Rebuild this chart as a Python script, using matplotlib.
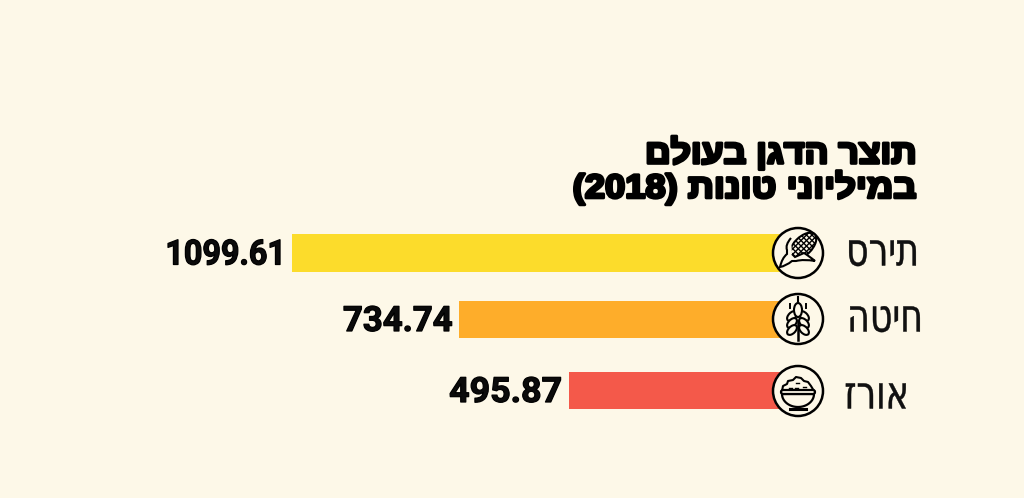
import matplotlib
matplotlib.use("Agg")
import matplotlib.pyplot as plt
import matplotlib.patches as patches
import matplotlib.patheffects as pe
from matplotlib.path import Path
from matplotlib.transforms import Affine2D
import numpy as np

# data
grains = ["תירס", "חיטה", "אורז"]
production = [1099.61, 734.74, 495.87]
title_line1 = "תוצר הדגן בעולם"
title_line2 = "במיליוני טונות"
title_year = "(2018)"

BG = "#FDF8E8"
bar_colors = ["#FCDC2B", "#FEAD2A", "#F4594A"]
row_top = [234, 301, 372]
row_bottom = [272, 338, 409]
icon_y = [253, 319, 391]
label_y = [253, 319, 396]
label_x = [919, 923, 909]
value_stretch = [0.93, 1.0, 1.03]
ZERO_PX = 795.5
PX_PER_UNIT = 0.4577


def heb(s):
    # matplotlib has no bidi, so hebrew goes in visual order
    return s[::-1]


class HStretch(pe.AbstractPathEffect):
    """squeeze or widen text around x0 (display px), none of the fonts here are condensed"""

    def __init__(self, sx, x0, lw=0.0):
        super().__init__()
        self.sx = sx
        self.x0 = x0
        self.lw = lw

    def draw_path(self, renderer, gc, tpath, affine, rgbFace=None):
        stretch = Affine2D().translate(-self.x0, 0).scale(self.sx, 1).translate(self.x0, 0)
        gc0 = renderer.new_gc()
        gc0.copy_properties(gc)
        gc0.set_linewidth(self.lw)
        gc0.set_foreground("black")
        renderer.draw_path(gc0, tpath, affine + stretch, rgbFace)
        gc0.restore()


def draw_corn(ax, cx, cy):
    cob = patches.Ellipse((cx + 5, cy - 7), 33, 18, angle=-45, fc=BG, ec="black", lw=1.5, zorder=5)
    ax.add_patch(cob)
    for t in np.arange(-24, 25, 5.5):
        a, = ax.plot([cx + 5 + t - 14, cx + 5 + t + 14], [cy - 7 - 14, cy - 7 + 14], c="black", lw=1.0, zorder=6)
        b, = ax.plot([cx + 5 + t - 14, cx + 5 + t + 14], [cy - 7 + 14, cy - 7 - 14], c="black", lw=1.0, zorder=6)
        a.set_clip_path(cob)
        b.set_clip_path(cob)
    verts = [(cx - 7, cy - 15), (cx - 13, cy - 8), (cx - 11, cy - 3), (cx - 11, cy + 1), (cx - 16, cy + 5),
             (cx - 18, cy + 14), (cx - 12, cy + 13), (cx - 6, cy + 8), (cx - 2, cy + 8), (cx + 6, cy + 6), (cx + 17, cy + 8),
             (cx + 11, cy + 3), (cx + 6, cy + 0), (cx - 3, cy + 4), (cx - 6, cy + 1)]
    codes = [Path.MOVETO, Path.CURVE3, Path.CURVE3, Path.LINETO, Path.CURVE3, Path.CURVE3, Path.CURVE3,
             Path.CURVE3, Path.LINETO, Path.CURVE3, Path.CURVE3, Path.CURVE3, Path.CURVE3, Path.LINETO, Path.LINETO]
    ax.add_patch(patches.PathPatch(Path(verts, codes), fc=BG, ec="black", lw=1.5, zorder=7))


def draw_wheat(ax, cx, cy):
    ax.plot([cx, cx], [cy - 22, cy - 18], c="black", lw=1.5, zorder=6)
    ax.plot([cx, cx], [cy + 2, cy + 21], c="black", lw=1.8, zorder=6)
    ax.add_patch(patches.Ellipse((cx, cy - 9), 8, 14, fc=BG, ec="black", lw=1.5, zorder=7))
    for dy in [-3, 4, 11]:
        for side in [-1, 1]:
            ax.add_patch(patches.Ellipse((cx + side * 6, cy + dy), 7, 12, angle=-side * 45,
                                         fc=BG, ec="black", lw=1.5, zorder=5))
    for side in [-1, 1]:
        ax.plot([cx + side * 8, cx + side * 8], [cy - 15, cy - 11], c="black", lw=1.4, zorder=6)


def draw_rice(ax, cx, cy):
    xs = [cx - 16, cx - 15, cx - 11, cx - 10, cx - 5, cx - 2, cx + 3, cx + 6, cx + 10, cx + 13, cx + 16]
    ys = [cy, cy - 5, cy - 7, cy - 10, cy - 11, cy - 14, cy - 13, cy - 10, cy - 9, cy - 5, cy]
    ax.plot(xs, ys, c="black", lw=1.5, zorder=6)
    ang = np.linspace(0, np.pi, 40)
    ax.add_patch(patches.Polygon(np.c_[cx + 16 * np.cos(ang), cy + 3 + 13 * np.sin(ang)], closed=True,
                                 fc=BG, ec="black", lw=1.6, zorder=5))
    ax.add_patch(patches.FancyBboxPatch((cx - 17, cy - 1), 34, 4, boxstyle="round,pad=0,rounding_size=2",
                                        fc=BG, ec="black", lw=1.6, zorder=6))
    ax.plot([cx - 8, cx + 8], [cy + 18, cy + 18], c="black", lw=2.2, zorder=6)
    for dx, dy in [(-9, -3), (-2, -8), (5, -4), (-3, -3)]:
        ax.plot([cx + dx, cx + dx + 3], [cy + dy, cy + dy], c="black", lw=1.0, zorder=6)


fig = plt.figure(figsize=(10.24, 4.98), dpi=100, facecolor=BG)

# bars grow to the left from the icon column
ax = fig.add_axes([0, 0, 1, 1])
ax.set_xlim(ZERO_PX / PX_PER_UNIT, (ZERO_PX - 1024) / PX_PER_UNIT)
ax.set_ylim(498, 0)
ax.axis("off")

centers = [(a + b) / 2 for a, b in zip(row_top, row_bottom)]
heights = [b - a for a, b in zip(row_top, row_bottom)]
ax.barh(centers, production, height=heights, color=bar_colors, zorder=2)

for v, y, sx in zip(production, centers, value_stretch):
    right_px = ax.transData.transform((v, 0))[0] - 6.5
    ax.annotate("{:.2f}".format(v), xy=(v, y + 2), xytext=(-4.7, 0), textcoords="offset points",
                ha="right", va="center", family="Roboto", fontweight="bold", fontsize=25,
                color="#0b0b0b", zorder=3, path_effects=[HStretch(sx, right_px, lw=0.9)])

# overlay in pixel coords for icons and hebrew text
ov = fig.add_axes([0, 0, 1, 1], facecolor="none")
ov.set_xlim(0, 1024)
ov.set_ylim(498, 0)
ov.axis("off")

for y in icon_y:
    ov.add_patch(patches.Circle((798, y), 25, fc=BG, ec="black", lw=1.8, zorder=4))
draw_corn(ov, 798, icon_y[0])
draw_wheat(ov, 798, icon_y[1])
draw_rice(ov, 798, icon_y[2])

for name, x, y in zip(grains, label_x, label_y):
    ov.text(x, y, heb(name), ha="right", va="center", family="Liberation Sans Narrow",
            fontsize=33, color="#111111", path_effects=[HStretch(0.76, x, lw=0.3)])

ov.text(917, 154, heb(title_line1), ha="right", va="center", family="Liberation Sans",
        fontweight="bold", fontsize=24, color="black", path_effects=[HStretch(1.065, 917, lw=2.2)])
ov.text(917, 188, title_year + " " + heb(title_line2), ha="right", va="center", family="Liberation Sans",
        fontweight="bold", fontsize=24, color="black", path_effects=[HStretch(1.09, 917, lw=2.2)])

fig.savefig("out.png", dpi=100, facecolor=BG)
